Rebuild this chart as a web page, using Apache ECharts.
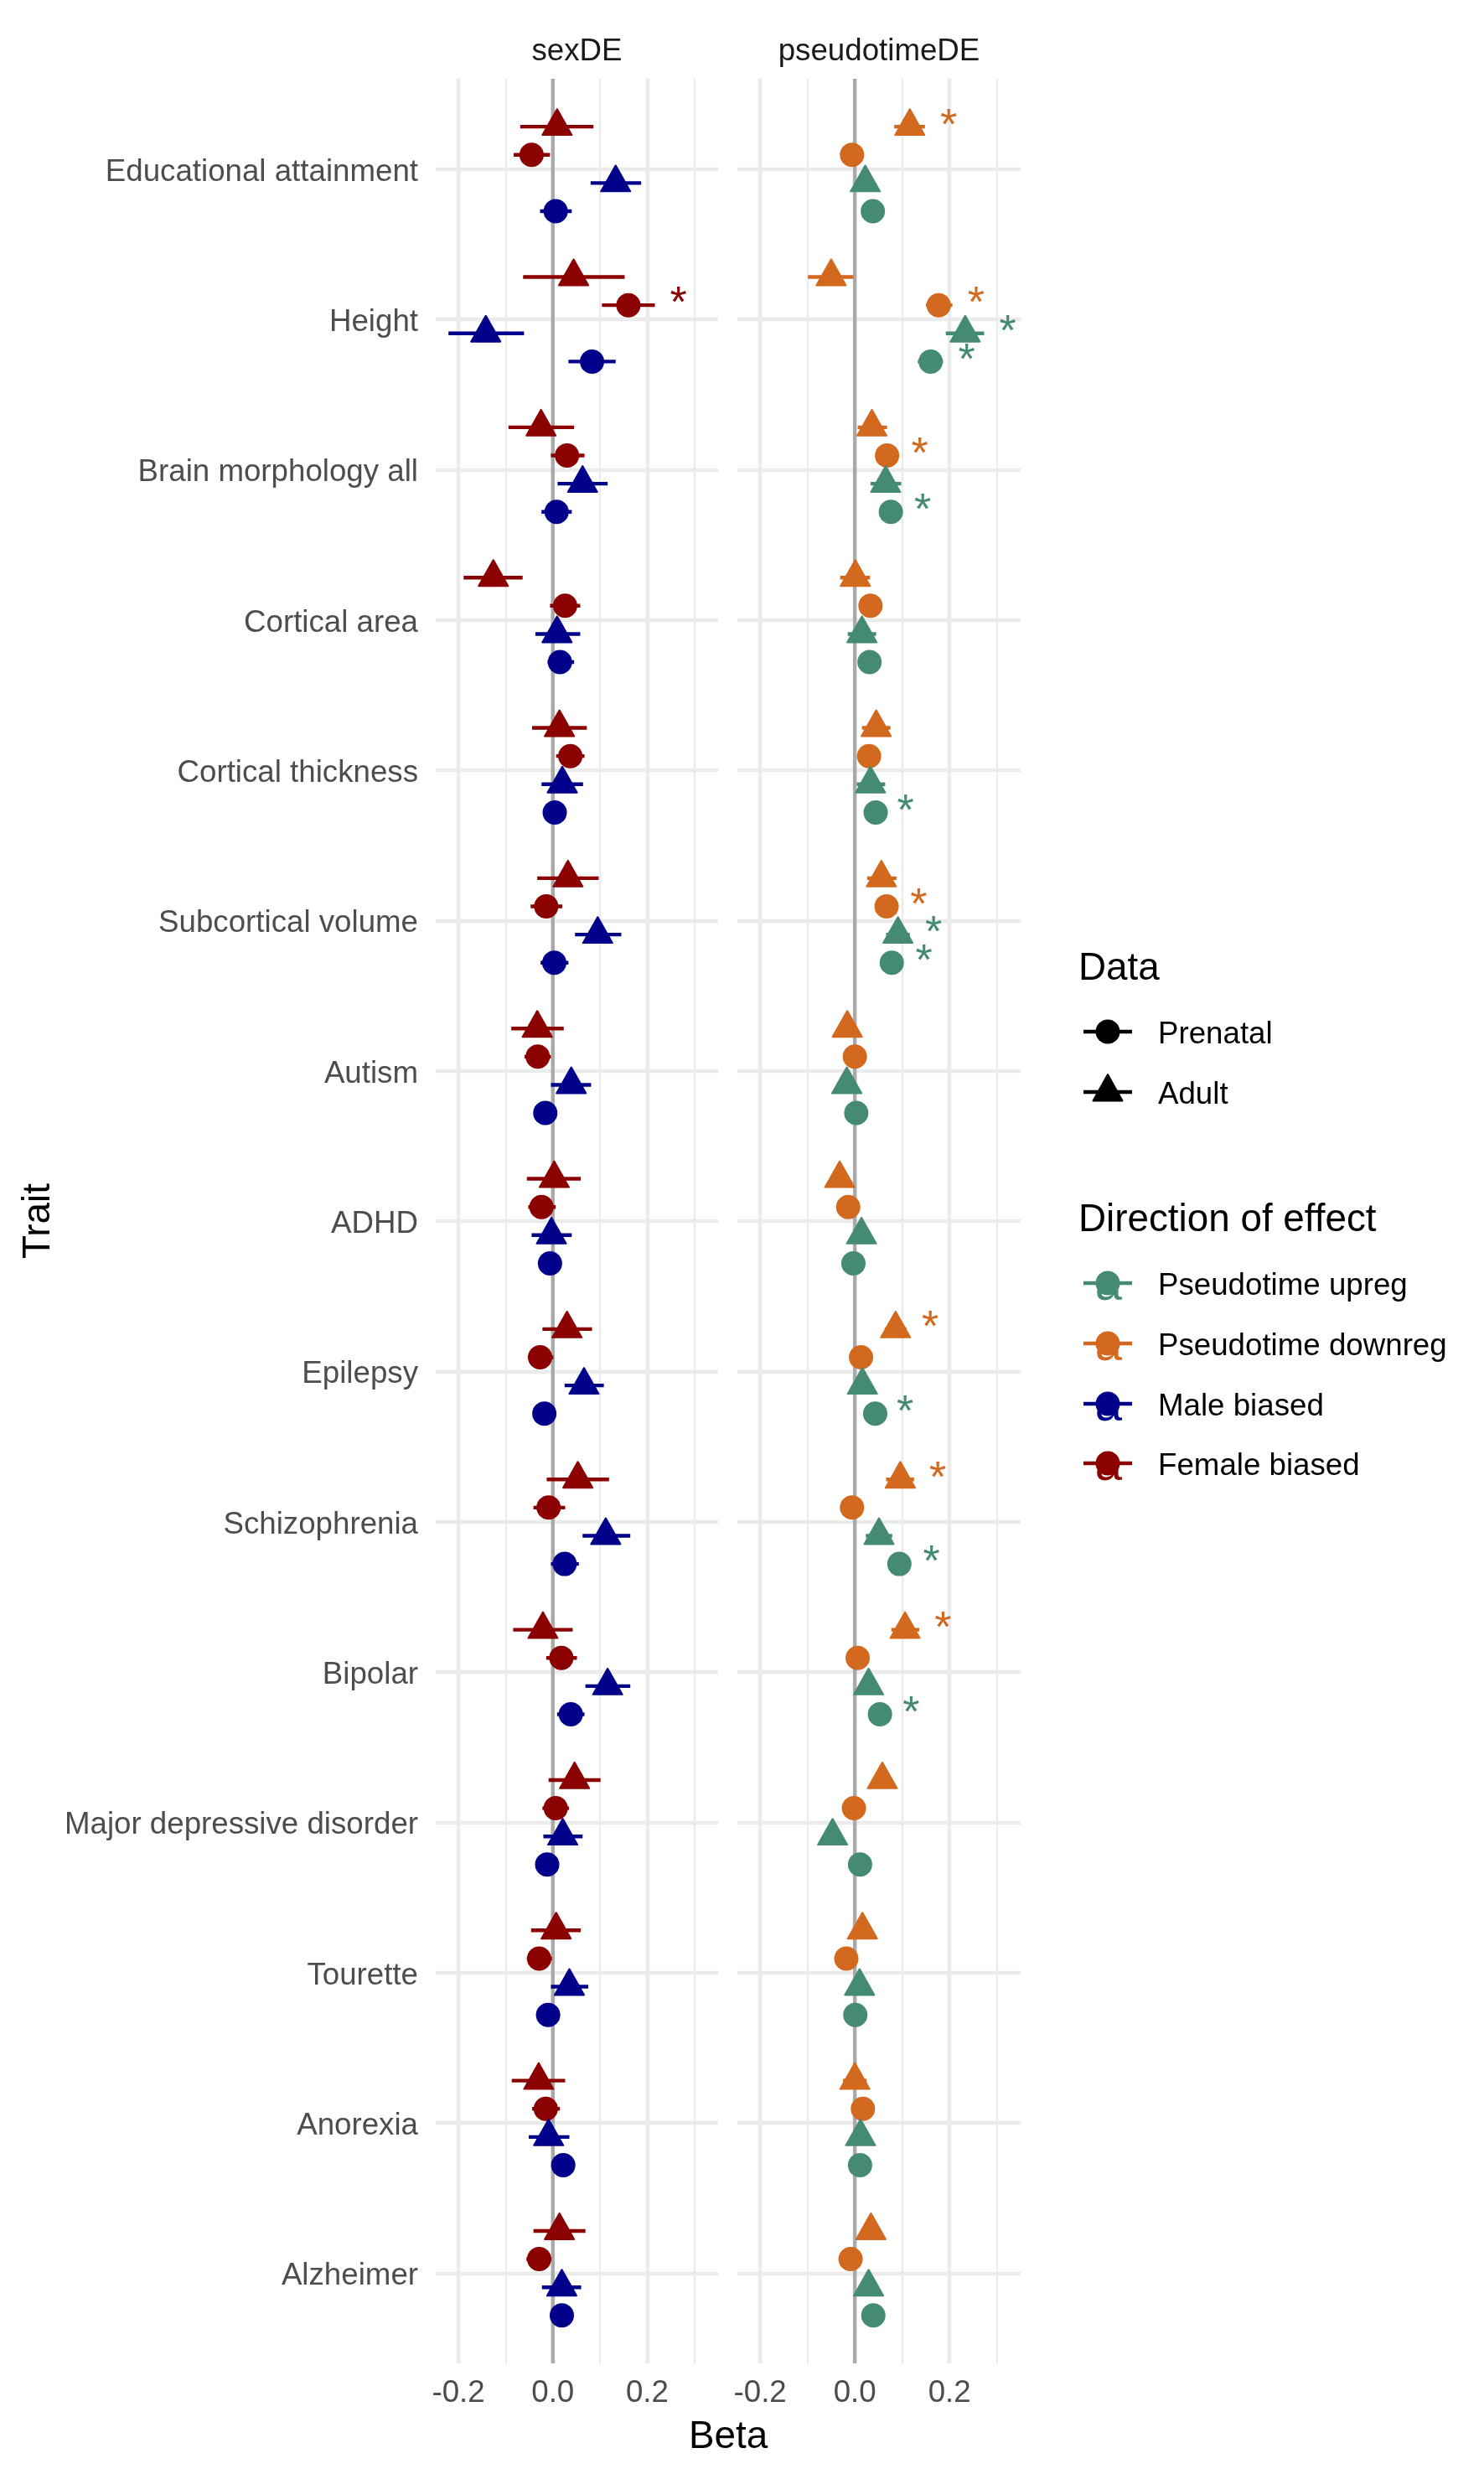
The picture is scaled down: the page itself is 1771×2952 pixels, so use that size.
<!DOCTYPE html>
<html><head><meta charset="utf-8">
<script src="https://cdn.jsdelivr.net/npm/echarts@6/dist/echarts.min.js"></script>
<style>html,body{margin:0;padding:0;background:#fff}#c{width:1771px;height:2952px}</style>
</head><body><div id="c"></div>
<script>
// ---------------- DATA ----------------
const traits = ['Educational attainment','Height','Brain morphology all','Cortical area','Cortical thickness',
  'Subcortical volume','Autism','ADHD','Epilepsy','Schizophrenia','Bipolar','Major depressive disorder',
  'Tourette','Anorexia','Alzheimer'];
const facetLabels = ['sexDE','pseudotimeDE'];
const xTickLabels = [-0.2, 0.0, 0.2];
const xMinorGrid = [-0.1, 0.1, 0.3];
// each row: [beta, ciLow, ciHigh, significant]
const sexFemaleAdult = [[0.009,-0.069,0.086,0],[0.044,-0.063,0.152,0],[-0.025,-0.094,0.045,0],[-0.126,-0.189,-0.064,0],[0.014,-0.044,0.072,0],
  [0.032,-0.033,0.097,0],[-0.033,-0.088,0.023,0],[0.003,-0.055,0.059,0],[0.030,-0.022,0.083,0],[0.053,-0.013,0.119,0],
  [-0.021,-0.084,0.042,0],[0.046,-0.009,0.101,0],[0.007,-0.046,0.059,0],[-0.030,-0.087,0.026,0],[0.014,-0.041,0.069,0]];
const sexFemalePrenatal = [[-0.045,-0.083,-0.006,0],[0.160,0.104,0.216,1],[0.030,-0.004,0.067,0],[0.026,-0.006,0.058,0],[0.037,0.007,0.067,0],
  [-0.014,-0.047,0.020,0],[-0.032,-0.060,-0.004,0],[-0.024,-0.052,0.006,0],[-0.027,-0.053,0.001,0],[-0.009,-0.041,0.026,0],
  [0.018,-0.014,0.051,0],[0.006,-0.022,0.034,0],[-0.029,-0.055,-0.002,0],[-0.015,-0.044,0.015,0],[-0.029,-0.056,-0.003,0]];
const sexMaleAdult = [[0.133,0.080,0.187,0],[-0.142,-0.221,-0.061,0],[0.063,0.010,0.116,0],[0.009,-0.037,0.058,0],[0.020,-0.024,0.064,0],
  [0.095,0.047,0.145,0],[0.039,-0.004,0.081,0],[-0.003,-0.045,0.040,0],[0.066,0.025,0.108,0],[0.112,0.063,0.164,0],
  [0.116,0.069,0.164,0],[0.021,-0.020,0.063,0],[0.035,-0.004,0.075,0],[-0.009,-0.051,0.035,0],[0.019,-0.023,0.060,0]];
const sexMalePrenatal = [[0.006,-0.027,0.040,0],[0.083,0.033,0.133,0],[0.008,-0.024,0.040,0],[0.015,-0.011,0.045,0],[0.004,-0.012,0.020,0],
  [0.003,-0.026,0.033,0],[-0.016,-0.028,-0.004,0],[-0.006,-0.018,0.006,0],[-0.018,-0.030,-0.006,0],[0.025,-0.004,0.055,0],
  [0.038,0.009,0.067,0],[-0.012,-0.024,0.000,0],[-0.010,-0.022,0.002,0],[0.022,0.010,0.034,0],[0.019,0.007,0.031,0]];
const pseudoDownAdult = [[0.116,0.083,0.148,1],[-0.050,-0.099,-0.003,0],[0.036,0.006,0.068,0],[0.001,-0.031,0.032,0],[0.045,0.015,0.075,0],
  [0.056,0.026,0.088,0],[-0.016,-0.031,-0.001,0],[-0.032,-0.050,-0.014,0],[0.086,0.063,0.109,1],[0.096,0.066,0.125,1],
  [0.106,0.077,0.136,1],[0.058,0.038,0.078,0],[0.016,-0.002,0.034,0],[0.000,-0.025,0.025,0],[0.034,0.016,0.052,0]];
const pseudoDownPrenatal = [[-0.006,-0.020,0.008,0],[0.177,0.150,0.206,1],[0.068,0.049,0.087,1],[0.033,0.018,0.048,0],[0.030,0.018,0.042,0],
  [0.067,0.049,0.085,1],[0.000,-0.012,0.012,0],[-0.014,-0.026,-0.002,0],[0.013,0.001,0.025,0],[-0.006,-0.018,0.006,0],
  [0.006,-0.006,0.018,0],[-0.002,-0.014,0.010,0],[-0.018,-0.030,-0.006,0],[0.017,0.005,0.029,0],[-0.009,-0.021,0.003,0]];
const pseudoUpAdult = [[0.022,0.005,0.040,0],[0.233,0.192,0.273,1],[0.065,0.033,0.098,0],[0.015,-0.015,0.045,0],[0.033,0.004,0.064,0],
  [0.091,0.066,0.116,1],[-0.017,-0.032,-0.002,0],[0.014,-0.001,0.029,0],[0.016,0.001,0.031,0],[0.051,0.023,0.079,0],
  [0.029,0.009,0.049,0],[-0.047,-0.067,-0.027,0],[0.010,-0.008,0.028,0],[0.012,-0.006,0.030,0],[0.029,0.011,0.047,0]];
const pseudoUpPrenatal = [[0.038,0.023,0.053,0],[0.160,0.133,0.186,1],[0.076,0.059,0.093,1],[0.031,0.016,0.046,0],[0.044,0.031,0.057,1],
  [0.078,0.060,0.096,1],[0.003,-0.009,0.015,0],[-0.003,-0.015,0.009,0],[0.043,0.030,0.056,1],[0.094,0.076,0.112,1],
  [0.053,0.037,0.069,1],[0.011,-0.001,0.023,0],[0.001,-0.011,0.013,0],[0.011,-0.001,0.023,0],[0.039,0.027,0.051,0]];

// ---------------- STYLE / LAYOUT ----------------
const FONT = "'Liberation Sans', Arial, Helvetica, sans-serif";
const COL = {female:'#8B0000', male:'#00008B', down:'#D2691E', up:'#458B74'};
const Y_MIN = -0.6, Y_MAX = traits.length - 1 + 0.6;
const X_MIN = -0.248, X_MAX = 0.35;
const STAR_GAP = 0.05;
const DODGE = 0.75 / 4; // position_dodge(width = 0.75) with 4 groups
const LABEL_NUDGE = 0.022; // small visual nudge so label caps centre on the gridline
const panels = [
  {groups:[
    {data:sexFemaleAdult, color:COL.female, shape:'triangle', dodge:-1.5 * DODGE},
    {data:sexFemalePrenatal, color:COL.female, shape:'circle', dodge:-0.5 * DODGE},
    {data:sexMaleAdult, color:COL.male, shape:'triangle', dodge:0.5 * DODGE},
    {data:sexMalePrenatal, color:COL.male, shape:'circle', dodge:1.5 * DODGE}]},
  {groups:[
    {data:pseudoDownAdult, color:COL.down, shape:'triangle', dodge:-1.5 * DODGE},
    {data:pseudoDownPrenatal, color:COL.down, shape:'circle', dodge:-0.5 * DODGE},
    {data:pseudoUpAdult, color:COL.up, shape:'triangle', dodge:0.5 * DODGE},
    {data:pseudoUpPrenatal, color:COL.up, shape:'circle', dodge:1.5 * DODGE}]}
];
const gridPos = [{left:520, width:337}, {left:880, width:338}];
const GRID_TOP = 94, GRID_H = 2726;
const catTicks = traits.map((t, i) => i);
const catLabelPos = traits.map((t, i) => i + LABEL_NUDGE);

const grids = [], xAxes = [], yAxes = [], series = [];
panels.forEach((panel, p) => {
  grids.push({left:gridPos[p].left, width:gridPos[p].width, top:GRID_TOP, height:GRID_H, containLabel:false});
  xAxes.push({type:'value', gridIndex:p, min:X_MIN, max:X_MAX, position:'bottom',
    axisLine:{show:false}, axisTick:{show:false, customValues:xTickLabels},
    axisLabel:{customValues:xTickLabels, formatter:v => v.toFixed(1), color:'#4D4D4D', fontSize:36.7, fontFamily:FONT, margin:17},
    splitLine:{show:true, lineStyle:{color:'#EBEBEB', width:4.4}}});
  xAxes.push({type:'value', gridIndex:p, min:X_MIN, max:X_MAX, position:'top',
    axisLine:{show:false}, axisTick:{show:false, customValues:xMinorGrid}, axisLabel:{show:false, customValues:xMinorGrid},
    splitLine:{show:true, lineStyle:{color:'#EBEBEB', width:2.2}}});
  yAxes.push({type:'value', gridIndex:p, inverse:true, min:Y_MIN, max:Y_MAX,
    axisLine:{show:false}, axisTick:{show:false, customValues:catTicks},
    axisLabel:{show:p === 0, customValues:catLabelPos, formatter:v => traits[Math.round(v)] || '',
      color:'#4D4D4D', fontSize:36.7, fontFamily:FONT, margin:21},
    splitLine:{show:true, lineStyle:{color:'#EBEBEB', width:4.4}}});
  const xi = p * 2, yi = p;
  // zero reference line
  series.push({type:'custom', xAxisIndex:xi, yAxisIndex:yi, z:1, silent:true, data:[[0]],
    renderItem:(params, api) => {
      const a = api.coord([api.value(0), Y_MIN]), b = api.coord([api.value(0), Y_MAX]);
      return {type:'line', shape:{x1:a[0], y1:a[1], x2:b[0], y2:b[1]}, style:{stroke:'#A9A9A9', lineWidth:4.4}};
    }});
  // error bars
  panel.groups.forEach(g => {
    series.push({type:'custom', xAxisIndex:xi, yAxisIndex:yi, z:2, silent:true,
      data:g.data.map((r, i) => [r[1], r[2], i + g.dodge]),
      renderItem:(params, api) => {
        const a = api.coord([api.value(0), api.value(2)]), b = api.coord([api.value(1), api.value(2)]);
        return {type:'line', shape:{x1:a[0], y1:a[1], x2:b[0], y2:b[1]}, style:{stroke:g.color, lineWidth:4.4, lineCap:'butt'}};
      }});
  });
  // points
  panel.groups.forEach(g => {
    const tri = g.shape === 'triangle';
    series.push({type:'scatter', xAxisIndex:xi, yAxisIndex:yi, z:3, silent:true,
      symbol:g.shape, symbolSize: tri ? [35, 31] : 29, symbolOffset: tri ? [0, -5.5] : [0, 0],
      itemStyle:{color:g.color, opacity:1, borderColor:g.color, borderWidth: tri ? 2 : 0, borderJoin:'round'},
      data:g.data.map((r, i) => [r[0], i + g.dodge])});
  });
  // significance stars
  panel.groups.forEach(g => {
    const rows = [];
    g.data.forEach((r, i) => { if (r[3]) rows.push([r[2] + STAR_GAP, i + g.dodge]); });
    series.push({type:'custom', xAxisIndex:xi, yAxisIndex:yi, z:4, silent:true, data:rows,
      renderItem:(params, api) => {
        const c = api.coord([api.value(0), api.value(1)]);
        return {type:'text', x:c[0], y:c[1], style:{text:'*', fill:g.color, font:'52px ' + FONT, align:'center', verticalAlign:'middle'}};
      }});
  });
});

// ---------------- GRAPHIC (facet strips, titles, legend) ----------------
const graphic = [];
const txt = (text, x, y, size, color, extra) => Object.assign({type:'text', x, y,
  style:{text, fill:color, font:size + 'px ' + FONT, align:'center', verticalAlign:'middle'}}, extra || {});
graphic.push(txt(facetLabels[0], gridPos[0].left + gridPos[0].width / 2, 62, 36.7, '#1A1A1A'));
graphic.push(txt(facetLabels[1], gridPos[1].left + gridPos[1].width / 2, 62, 36.7, '#1A1A1A'));
graphic.push(txt('Beta', 869, 2908, 45.8, '#000000'));
graphic.push(txt('Trait', 46, 1457, 45.8, '#000000', {rotation:Math.PI / 2}));

const LX = 1287, KX = 1322, TX = 1382;
const leftTxt = (text, x, y, size) => ({type:'text', x, y, style:{text, fill:'#000', font:size + 'px ' + FONT, align:'left', verticalAlign:'middle'}});
graphic.push(leftTxt('Data', LX, 1156, 45.8));
const dataKeys = [{label:'Prenatal', shape:'circle', y:1231}, {label:'Adult', shape:'triangle', y:1303}];
dataKeys.forEach(k => {
  graphic.push({type:'line', shape:{x1:KX - 29, y1:k.y, x2:KX + 29, y2:k.y}, style:{stroke:'#000', lineWidth:4.4}});
  if (k.shape === 'circle') graphic.push({type:'circle', shape:{cx:KX, cy:k.y, r:14.5}, style:{fill:'#000'}});
  else graphic.push({type:'polygon', shape:{points:[[KX, k.y - 21], [KX + 17.5, k.y + 10.5], [KX - 17.5, k.y + 10.5]]},
    style:{fill:'#000', stroke:'#000', lineWidth:2, lineJoin:'round'}});
  graphic.push(leftTxt(k.label, TX, k.y + 4, 36.7));
});
graphic.push(leftTxt('Direction of effect', LX, 1456, 45.8));
const dirKeys = [{label:'Pseudotime upreg', color:COL.up, y:1531}, {label:'Pseudotime downreg', color:COL.down, y:1603},
  {label:'Male biased', color:COL.male, y:1675}, {label:'Female biased', color:COL.female, y:1746}];
dirKeys.forEach(k => {
  graphic.push({type:'text', x:KX + 1, y:k.y + 4, style:{text:'a', fill:k.color, font:'58px ' + FONT, align:'center', verticalAlign:'middle'}});
  graphic.push({type:'line', shape:{x1:KX - 29, y1:k.y, x2:KX + 29, y2:k.y}, style:{stroke:k.color, lineWidth:4.4}});
  graphic.push({type:'circle', shape:{cx:KX, cy:k.y, r:14.5}, style:{fill:k.color}});
  graphic.push(leftTxt(k.label, TX, k.y + 4, 36.7));
});

const chart = echarts.init(document.getElementById('c'), null, {renderer:'canvas'});
chart.setOption({
  animation:false, backgroundColor:'#ffffff',
  textStyle:{fontFamily:FONT},
  grid:grids, xAxis:xAxes, yAxis:yAxes, series, graphic
});
</script></body></html>
